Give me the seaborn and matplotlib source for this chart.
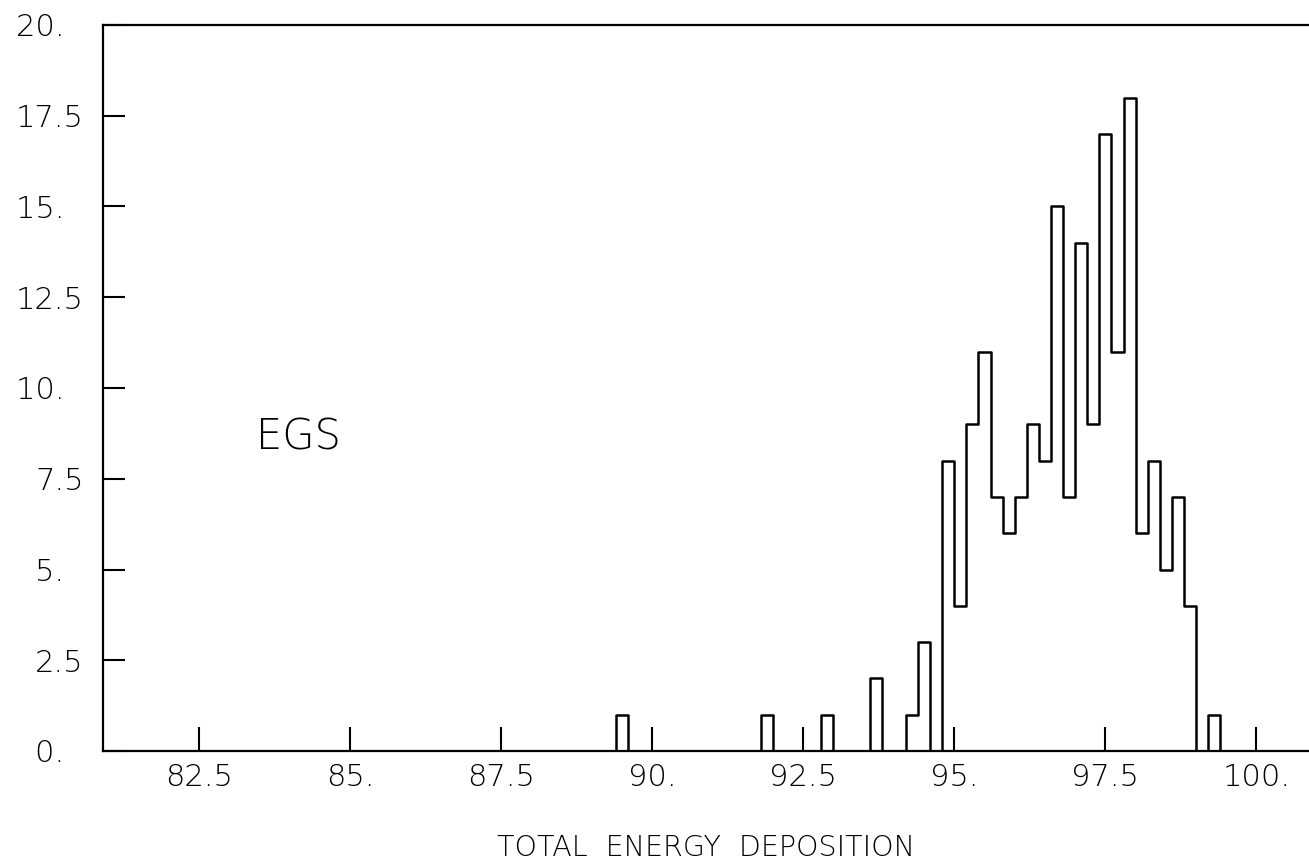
import numpy as np
import pandas as pd
import matplotlib
matplotlib.use("Agg")
import matplotlib.pyplot as plt
import seaborn as sns

# ---- data ----
bin_width = 0.2
bin_range = (89.2, 99.6)   # 52 bins of 0.2
counts = [0, 1,
          0, 0, 0, 0, 0, 0, 0, 0, 0, 0, 0,
          1,
          0, 0, 0, 0,
          1,
          0, 0, 0,
          2,
          0, 0,
          1, 3, 0, 8, 4, 9, 11, 7, 6, 7, 9, 8, 15, 7, 14, 9, 17, 11, 18,
          6, 8, 5, 7, 4, 0, 1, 0]
x_ticks = [82.5, 85, 87.5, 90, 92.5, 95, 97.5, 100]
x_ticklabels = ["82.5", "85.", "87.5", "90.", "92.5", "95.", "97.5", "100."]
y_ticks = [0, 2.5, 5, 7.5, 10, 12.5, 15, 17.5, 20]
y_ticklabels = ["0.\u2007", "2.5", "5.\u2007", "7.5", "10.\u2007", "12.5", "15.\u2007", "17.5", "20.\u2007"]
x_label = "TOTAL  ENERGY  DEPOSITION"
annotation = "EGS"

edges = np.round(np.linspace(bin_range[0], bin_range[1], len(counts) + 1), 2)
centers = (edges[:-1] + edges[1:]) / 2
df = pd.DataFrame({"energy": centers, "count": counts})

sns.set_style("white")
plt.rcParams["font.family"] = ["DejaVu Sans"]

fig = plt.figure(figsize=(13.09, 8.65), dpi=100)
ax = fig.add_axes([103 / 1309, 114 / 865, 1206 / 1309, 726 / 865])

sns.histplot(data=df, x="energy", weights="count", binwidth=bin_width,
             binrange=bin_range, element="step", fill=False, color="black",
             linewidth=1.8, ax=ax)

ax.set_xlim(80.91, 100.87)
ax.set_ylim(0, 20)
ax.set_xticks(x_ticks)
ax.set_xticklabels(x_ticklabels)
ax.set_yticks(y_ticks)
ax.set_yticklabels(y_ticklabels)
ax.tick_params(axis="x", bottom=True, direction="in", length=17, width=1.5,
               pad=9, labelsize=22, colors="black")
ax.tick_params(axis="y", left=True, direction="in", length=16, width=1.5,
               pad=14, labelsize=22, colors="black")
for lab in ax.get_xticklabels() + ax.get_yticklabels():
    lab.set_fontweight("light")

for side in ["left", "bottom", "top"]:
    ax.spines[side].set_visible(True)
    ax.spines[side].set_color("black")
    ax.spines[side].set_linewidth(1.6)
ax.spines["right"].set_visible(False)

ax.set_ylabel("")
ax.set_xlabel(x_label, fontsize=20.5, fontweight="light", labelpad=30, color="black")
ax.text(83.45, 8.65, annotation, fontsize=30, fontweight="light",
        ha="left", va="center", color="black")

fig.savefig("out.png", dpi=100, facecolor="white")
